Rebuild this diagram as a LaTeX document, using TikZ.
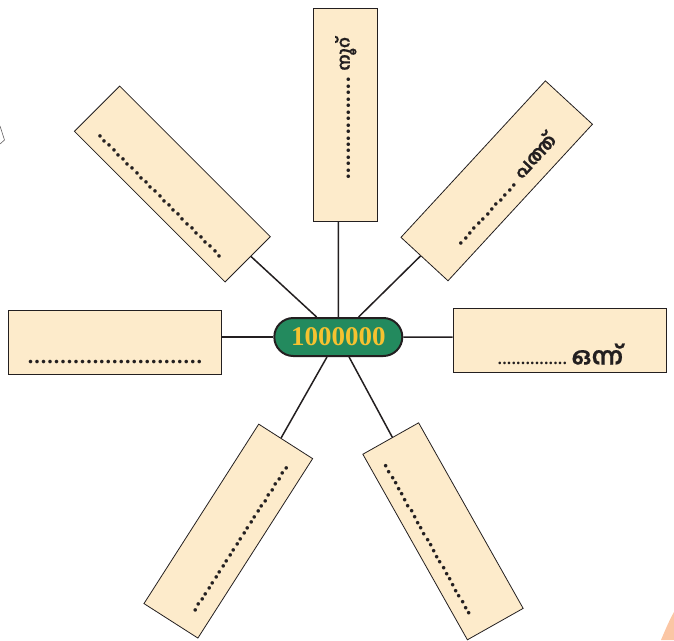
\documentclass[tikz,border=0pt]{standalone}
\usepackage{fontspec}
\setmainfont{Liberation Serif}
\newfontfamily\mlfont[Script=Malayalam, FakeBold=0.6]{Hind Kochi}
\newfontfamily\dotfont[LetterSpace=4.5]{Liberation Serif}
\newfontfamily\smalldotfont[LetterSpace=4]{Liberation Serif}
\usetikzlibrary{shapes.misc}
\definecolor{ink}{HTML}{231F20}
\definecolor{boxfill}{HTML}{FDEBCB}
\definecolor{pillgreen}{HTML}{238A5E}
\definecolor{pilltext}{HTML}{F6C230}
\definecolor{peach}{HTML}{FBC6A4}
\tikzset{
  box/.style={draw=ink, line width=0.8pt, fill=boxfill, minimum width=213pt, minimum height=64pt, inner sep=0pt},
  conn/.style={draw=ink, line width=1.5pt},
  pill/.style={rounded rectangle, draw=ink, line width=2pt, fill=pillgreen, text=pilltext,
    minimum width=128pt, minimum height=38pt, inner sep=0pt, font=\fontsize{27}{30}\selectfont\bfseries},
  dotrow/.style={anchor=base, inner sep=0pt, text=ink, font=\dotfont\fontsize{22}{24}\selectfont\bfseries},
}
\begin{document}
\begin{tikzpicture}[x=1pt,y=-1pt]
\useasboundingbox (0,0) rectangle (674,640);
% cut-off shapes at the edges
\fill[peach] (661,640) .. controls (666,628) and (670,619) .. (674,612) -- (674,640) -- cycle;
\draw[ink!70, line width=0.6pt] (0,126) -- (4.5,140) -- (0,144);

\node[pill] (c) at (338.3,337) {1000000};

% top box
\begin{scope}[shift={(345.2,114.5)}, rotate=90, transform shape]
  \node[box] (t) at (0,0) {};
  \node[dotrow] (tt) at (6,4.6) {................\ {\mlfont\fontsize{17}{18}\selectfont\bfseries നൂറ്}};
\end{scope}
% top-right box
\begin{scope}[shift={(496.7,180.8)}, rotate=47.3, transform shape]
  \node[box] (tr) at (0,0) {};
  \node[dotrow] (trt) at (-1,17.8) {.............\ {\mlfont\fontsize{19}{20}\selectfont\bfseries പത്ത്}};
\end{scope}
% right box
\node[box] (r) at (559.5,340.8) {};
\node[anchor=base, inner sep=0pt, text=ink, font=\smalldotfont\fontsize{16}{18}\selectfont\bfseries] (rt) at (560.5,364.5)
  {...............\ {\mlfont\fontsize{24}{26}\selectfont\bfseries ഒന്ന്}};
% left box
\node[box] (l) at (114.5,342.8) {};
\node[dotrow] (lt) at (115,363.3) {...........................};
% top-left box
\begin{scope}[shift={(172.4,184)}, rotate=-45, transform shape]
  \node[box] (tl) at (0,0) {};
  \node[dotrow] (tlt) at (0,19) {...........................};
\end{scope}
% bottom-left box
\begin{scope}[shift={(228.3,531.1)}, rotate=57.4, transform shape]
  \node[box] (bl) at (0,0) {};
  \node[dotrow] (blt) at (0,16.5) {...........................};
\end{scope}
% bottom-right box
\begin{scope}[shift={(443,531.3)}, rotate=-60.6, transform shape]
  \node[box] (br) at (0,0) {};
  \node[dotrow] (brt) at (0,19) {...........................};
\end{scope}

% connectors
\draw[conn] (c) -- (c |- t.west);
\draw[conn] (c) -- (c -| l.east);
\draw[conn] (c) -- (c -| r.west);
\draw[conn] (c) -- (tr);
\draw[conn] (c) -- (tl);
\draw[conn] (c) -- (bl);
\draw[conn] (c) -- (br);
\end{tikzpicture}
\end{document}
